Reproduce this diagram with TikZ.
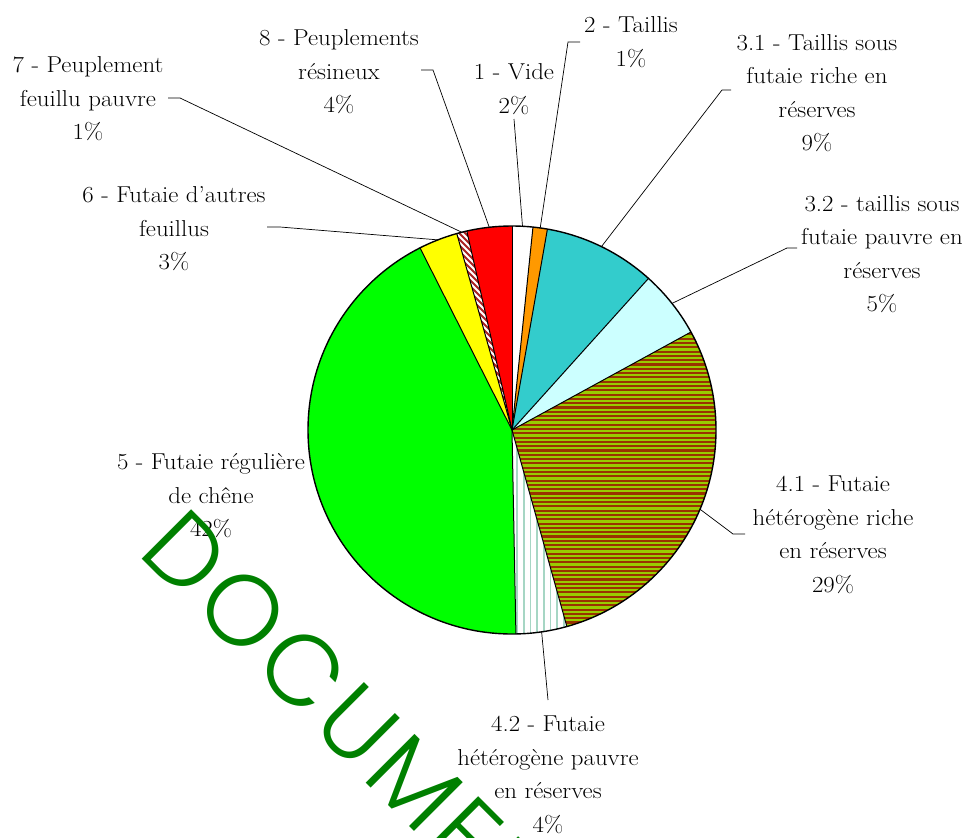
\documentclass[tikz,border=0pt]{standalone}
\usepackage{fontspec}
\setmainfont{Latin Modern Roman}[FakeStretch=1.08]
\IfFontExistsTF{Poppins Light}{\newfontfamily\wmfont{Poppins Light}[LetterSpace=6]}{\newfontfamily\wmfont{Poppins}[LetterSpace=6]}
\definecolor{cOrange}{HTML}{FF9900}
\definecolor{cTeal}{HTML}{33CCCC}
\definecolor{cCyan}{HTML}{CCFFFF}
\definecolor{cOlive}{HTML}{99CC00}
\definecolor{cBrown}{HTML}{993300}
\definecolor{cSea}{HTML}{A6D6C4}
\definecolor{cGreen}{HTML}{00FF00}
\definecolor{cYellow}{HTML}{FFFF00}
\definecolor{cRed}{HTML}{FF0000}
\definecolor{cDark}{HTML}{AA2222}
\definecolor{cWm}{HTML}{008000}
\begin{document}
\begin{tikzpicture}[x=1pt,y=1pt,
  lab/.style={align=center,inner sep=0pt,font=\fontsize{23}{33.5}\selectfont},
  lead/.style={draw=black,line width=0.7pt},
  edgeline/.style={draw=black,line width=1pt},
  wm/.style={text=cWm,inner sep=0pt,font=\wmfont\fontsize{100}{100}\selectfont}]
\useasboundingbox (0,0) rectangle (967,-838);
\coordinate (C) at (512,-430);
\def\R{204}
\newcommand\pieslice[3]{\path[#1] (C) -- ++(#2:\R) arc[start angle=#2,end angle=#3,radius=\R] -- cycle;}
% plain fills
\pieslice{fill=white}{90}{84.1}
\pieslice{fill=cOrange}{84.1}{80}
\pieslice{fill=cTeal}{80}{48}
\pieslice{fill=cCyan}{48}{28.7}
\pieslice{fill=cGreen}{-88.9}{-243.2}
\pieslice{fill=cYellow}{-243.2}{-254.3}
\pieslice{fill=cRed}{-257.2}{-270}
% 4.1 horizontal stripes
\begin{scope}
\clip (C) -- ++(28.7:\R) arc[start angle=28.7,end angle=-74.4,radius=\R] -- cycle;
\fill[cOlive] (500,-300) rectangle (740,-650);
\foreach \k in {0,...,80} \draw[cBrown,line width=2.1pt] (500,{-300-4.3*\k}) -- (740,{-300-4.3*\k});
\end{scope}
% 4.2 vertical stripes
\begin{scope}
\clip (C) -- ++(-74.4:\R) arc[start angle=-74.4,end angle=-88.9,radius=\R] -- cycle;
\fill[white] (500,-420) rectangle (600,-650);
\foreach \k in {0,...,14} \draw[cSea,line width=1.6pt] ({517+6.7*\k},-420) -- ({517+6.7*\k},-650);
\end{scope}
% 7 diagonal stripes
\begin{scope}
\clip (C) -- ++(-254.3:\R) arc[start angle=-254.3,end angle=-257.2,radius=\R] -- cycle;
\fill[white] (440,-220) rectangle (520,-440);
\foreach \k in {0,...,60} \draw[cDark,line width=2pt] ({200+6*\k},-220) -- ({420+6*\k},-440);
\end{scope}
% outlines
\foreach \a in {90,84.1,80,48,28.7,-74.4,-88.9,-243.2,-254.3,-257.2} \draw[edgeline] (C) -- ++(\a:\R);
\draw[black,line width=1.4pt] (C) circle[radius=\R];
% mid points
\path (C) ++(87.05:\R) coordinate (m1);
\path (C) ++(82.05:\R) coordinate (m2);
\path (C) ++(64:\R) coordinate (m31);
\path (C) ++(38.35:\R) coordinate (m32);
\path (C) ++(-22.85:\R) coordinate (m41);
\path (C) ++(-81.65:\R) coordinate (m42);
\path (C) ++(-248.75:\R) coordinate (m6);
\path (C) ++(-255.75:\R) coordinate (m7);
\path (C) ++(-263.6:\R) coordinate (m8);
% labels
\node[lab] (l1) at (514,-89) {1 - Vide\\2\%};
\node[lab] (l2) at (631,-42) {2 - Taillis\\1\%};
\node[lab] (l31) at (817,-93) {3.1 - Taillis sous\\futaie riche en\\réserves\\9\%};
\node[lab] (l32) at (882,-254) {3.2 - taillis sous\\futaie pauvre en\\réserves\\5\%};
\node[lab] (l41) at (833,-535) {4.1 - Futaie\\hétérogène riche\\en réserves\\29\%};
\node[lab] (l42) at (548,-775) {4.2 - Futaie\\hétérogène pauvre\\en réserves\\4\%};
\node[lab] (l5) at (211,-496) {5 - Futaie régulière\\de chêne\\42\%};
\node[lab] (l6) at (174,-229) {6 - Futaie d'autres\\feuillus\\3\%};
\node[lab] (l7) at (88,-99) {7 - Peuplement\\feuillu pauvre\\1\%};
\node[lab] (l8) at (339,-72) {8 - Peuplements\\résineux\\4\%};
% leader free ends
\coordinate (d1) at (514,-119);
\coordinate (d2) at (580,-42);
\coordinate (d31) at (731,-90);
\coordinate (d32) at (797,-248);
\coordinate (d41) at (745,-534);
\coordinate (d42) at (548,-700);
\coordinate (d6) at (267,-227);
\coordinate (d7) at (168,-98);
\coordinate (d8) at (421,-70);
\draw[lead] (d1) -- (m1);
\draw[lead] (d2) -- ++(-12,0) -- (m2);
\draw[lead] (d31) -- ++(-9,0) -- (m31);
\draw[lead] (d32) -- ++(-10,0) -- (m32);
\draw[lead] (d41) -- ++(-12,0) -- (m41);
\draw[lead] (d42) -- (m42);
\draw[lead] (d6) -- ++(13,0) -- (m6);
\draw[lead] (d7) -- ++(12,0) -- (m7);
\draw[lead] (d8) -- ++(12,0) -- (m8);
% watermark
\node[wm,rotate=-45,anchor=base west] (wmk) at (136,-553) {DOCUMENT};
\end{tikzpicture}
\end{document}
